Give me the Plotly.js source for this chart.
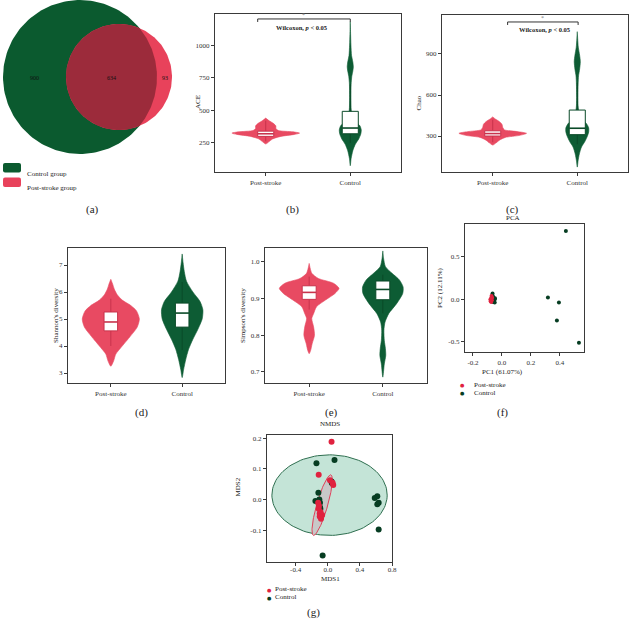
<!DOCTYPE html>
<html>
<head>
<meta charset="utf-8">
<script src="https://cdn.plot.ly/plotly-3.0.1.min.js"></script>
<style>html,body{margin:0;padding:0;background:#fff;}#chart{width:630px;height:627px;}</style>
</head>
<body>
<div id="chart"></div>
<script>
// ---------------- DATA ----------------
const groups = ['Post-stroke', 'Control'];
// Venn counts
const vennOnlyControl = 900;
const vennShared = 634;
const vennOnlyPost = 93;
const vennNames = ['Control group', 'Post-stroke group'];

// ACE violin profiles (value, half-width)
const aceGroupY_post = [242, 260, 280, 300, 315, 325, 335, 345, 360, 380, 400, 420, 440];
const aceGroupW_post = [0, 0.04, 0.08, 0.18, 0.34, 0.40, 0.32, 0.15, 0.12, 0.12, 0.09, 0.04, 0];
const aceGroupY_ctrl = [75, 130, 190, 240, 280, 320, 350, 380, 410, 450, 500, 600, 700, 760, 800, 833, 870, 920, 1000, 1080, 1179];
const aceGroupW_ctrl = [0, 0.01, 0.03, 0.06, 0.10, 0.125, 0.13, 0.115, 0.07, 0.03, 0.012, 0.008, 0.01, 0.018, 0.03, 0.036, 0.03, 0.015, 0.008, 0.004, 0];
const aceBox_post = {q1: 300, median: 320, q3: 340, lo: 262, hi: 420};
const aceBox_ctrl = {q1: 320, median: 364, q3: 492, lo: 250, hi: 700};

// Chao violin profiles
const chaoY_post = [234, 250, 270, 290, 305, 320, 332, 345, 360, 385, 405, 425, 440];
const chaoW_post = [0, 0.04, 0.08, 0.15, 0.32, 0.40, 0.30, 0.14, 0.12, 0.11, 0.08, 0.03, 0];
const chaoY_ctrl = [73, 120, 170, 220, 260, 300, 330, 360, 390, 420, 460, 520, 600, 680, 740, 790, 844, 890, 950, 1010, 1063];
const chaoW_ctrl = [0, 0.01, 0.025, 0.05, 0.09, 0.12, 0.135, 0.135, 0.11, 0.06, 0.025, 0.01, 0.008, 0.01, 0.015, 0.028, 0.036, 0.028, 0.012, 0.005, 0];
const chaoBox_post = {q1: 300, median: 318, q3: 338, lo: 255, hi: 420};
const chaoBox_ctrl = {q1: 310, median: 357, q3: 490, lo: 240, hi: 690};

// Shannon violin profiles
const shanY_post = [3.25, 3.45, 3.7, 4.0, 4.35, 4.7, 5.0, 5.3, 5.5, 5.7, 5.9, 6.1, 6.3, 6.47];
const shanW_post = [0, 0.04, 0.07, 0.16, 0.27, 0.37, 0.40, 0.36, 0.28, 0.16, 0.09, 0.05, 0.025, 0];
const shanY_ctrl = [2.83, 3.13, 3.5, 3.88, 4.25, 4.62, 5.0, 5.34, 5.65, 6.0, 6.4, 6.75, 7.1, 7.41];
const shanW_ctrl = [0, 0.02, 0.05, 0.09, 0.15, 0.22, 0.28, 0.29, 0.25, 0.15, 0.06, 0.03, 0.012, 0];
const shanBox_post = {q1: 4.56, median: 4.89, q3: 5.26, lo: 4.0, hi: 5.75};
const shanBox_ctrl = {q1: 4.70, median: 5.22, q3: 5.59, lo: 3.85, hi: 6.37};

// Simpson violin profiles
const simpY_post = [0.75, 0.759, 0.777, 0.80, 0.823, 0.846, 0.859, 0.878, 0.896, 0.914, 0.928, 0.942, 0.955, 0.969, 0.996];
const simpW_post = [0, 0.02, 0.04, 0.072, 0.06, 0.035, 0.06, 0.10, 0.22, 0.35, 0.405, 0.33, 0.125, 0.036, 0];
const simpY_ctrl = [0.686, 0.722, 0.745, 0.764, 0.786, 0.814, 0.836, 0.859, 0.887, 0.914, 0.932, 0.951, 0.969, 0.987, 1.01, 1.03];
const simpW_ctrl = [0, 0.02, 0.04, 0.035, 0.02, 0.015, 0.03, 0.08, 0.19, 0.27, 0.275, 0.225, 0.126, 0.036, 0.01, 0];
const simpBox_post = {q1: 0.898, median: 0.917, q3: 0.935, lo: 0.87, hi: 0.96};
const simpBox_ctrl = {q1: 0.897, median: 0.925, q3: 0.948, lo: 0.86, hi: 0.965};

// PCA points
const pcaCtrlX = [-0.065, -0.066, -0.06, -0.055, -0.05, -0.06, -0.055, -0.06, -0.05, -0.066, -0.07, -0.048, 0.317, 0.393, 0.379, 0.531, 0.441];
const pcaCtrlY = [0.07, 0.05, 0.03, 0.01, 0.0, -0.01, -0.02, -0.03, -0.035, -0.02, 0.02, 0.015, 0.024, -0.035, -0.247, -0.51, 0.806];
const pcaPostX = [-0.08, -0.078, -0.075, -0.072, -0.07, -0.068, -0.074];
const pcaPostY = [0.0, -0.02, 0.01, 0.04, -0.01, 0.02, -0.03];

// NMDS points
const nmdsPostX = [0.047, -0.113, 0.027, 0.068, 0.06, -0.10, -0.084, -0.113, -0.07, -0.12, -0.09, -0.10, -0.11];
const nmdsPostY = [0.188, 0.081, 0.063, 0.047, 0.055, -0.045, -0.062, -0.03, -0.05, -0.01, -0.04, -0.055, -0.02];
const nmdsCtrlX = [-0.141, 0.084, 0.047, 0.05, -0.117, -0.154, -0.105, -0.097, -0.097, -0.092, -0.11, 0.585, 0.617, 0.634, 0.617, 0.634, -0.064];
const nmdsCtrlY = [0.118, 0.129, 0.059, 0.054, 0.022, -0.005, 0.0, -0.01, -0.025, -0.03, -0.015, 0.005, 0.011, -0.01, -0.015, -0.097, -0.182];
// confidence ellipses: [cx, cy, ax, ay, bx, by] (center, major half-vector, minor half-vector)
const ellCtrl = [0.022, 0.0145, 0.718, 0, 0, 0.131];
const ellPost = [-0.07, -0.018, 0.1085, 0.0985, 0.065, -0.0049];

// ---------------- STYLE ----------------
const FONT = 'Liberation Serif, Times New Roman, serif';
const RED = '#e84a62', GREEN = '#0d5c34';
const RED_D = '#c8334c', GREEN_D = '#0a4a28';
const PT_RED = '#e0223f', PT_GREEN = '#063d22';
const W = 630, H = 627;
const P = (x, y) => ({x: x / W, y: 1 - y / H});

const traces = [];
// ---------------- VENN ----------------
const k = 77 / Math.sqrt(vennOnlyControl + vennShared);
const Rg = k * Math.sqrt(vennOnlyControl + vennShared);
const Rr = k * Math.sqrt(vennShared + vennOnlyPost);
function lensArea(d, R, r) {
  if (d >= R + r) return 0;
  if (d <= Math.abs(R - r)) return Math.PI * Math.min(R, r) ** 2;
  const a1 = r * r * Math.acos((d * d + r * r - R * R) / (2 * d * r));
  const a2 = R * R * Math.acos((d * d + R * R - r * r) / (2 * d * R));
  const a3 = 0.5 * Math.sqrt((-d + r + R) * (d + r - R) * (d - r + R) * (d + r + R));
  return a1 + a2 - a3;
}
const target = Math.PI * k * k * vennShared;
let lo = Math.abs(Rg - Rr) + 1e-6, hi = Rg + Rr;
for (let i = 0; i < 60; i++) { const m = (lo + hi) / 2; if (lensArea(m, Rg, Rr) > target) lo = m; else hi = m; }
const dist = (lo + hi) / 2;
const gx = 80, cy = 77, rx = gx + dist;
function circ(cx, cy0, R, t0, t1, n) { const xs = [], ys = []; for (let i = 0; i <= n; i++) { const t = t0 + (t1 - t0) * i / n; xs.push(cx + R * Math.cos(t)); ys.push(cy0 + R * Math.sin(t)); } return [xs, ys]; }
const [cgx, cgy] = circ(gx, cy, Rg, 0, 2 * Math.PI, 180);
const [crx, cry] = circ(rx, cy, Rr, 0, 2 * Math.PI, 180);
const aa = (dist * dist + Rg * Rg - Rr * Rr) / (2 * dist);
const hh = Math.sqrt(Rg * Rg - aa * aa);
const thg = Math.atan2(hh, aa), thr = Math.atan2(hh, dist - aa);
const [l1x, l1y] = circ(gx, cy, Rg, -thg, thg, 80);
const [l2x, l2y] = circ(rx, cy, Rr, Math.PI - thr, Math.PI + thr, 80);
traces.push({type: 'scatter', mode: 'lines', x: cgx, y: cgy, fill: 'toself', fillcolor: '#0b5a2f', line: {width: 0, color: '#0b5a2f'}, xaxis: 'x', yaxis: 'y', hoverinfo: 'skip', name: vennNames[0]});
traces.push({type: 'scatter', mode: 'lines', x: crx, y: cry, fill: 'toself', fillcolor: '#e8425b', line: {width: 0, color: '#e8425b'}, xaxis: 'x', yaxis: 'y', hoverinfo: 'skip', name: vennNames[1]});
traces.push({type: 'scatter', mode: 'lines', x: l1x.concat(l2x), y: l1y.concat(l2y), fill: 'toself', fillcolor: '#9c2b3b', line: {width: 0, color: '#9c2b3b'}, xaxis: 'x', yaxis: 'y', hoverinfo: 'skip'});

// ---------------- VIOLINS ----------------
function violin(pos, vy, vw, color, xa, ya) {
  const xs = [], ys = [];
  for (let i = 0; i < vy.length; i++) { xs.push(pos - vw[i]); ys.push(vy[i]); }
  for (let i = vy.length - 1; i >= 0; i--) { xs.push(pos + vw[i]); ys.push(vy[i]); }
  return {type: 'scatter', mode: 'lines', x: xs, y: ys, fill: 'toself', fillcolor: color, line: {color: color, width: 0.6, shape: 'spline', smoothing: 0.7}, xaxis: xa, yaxis: ya, hoverinfo: 'skip'};
}
// box drawn with scatter so that it sits above the violin fill
const BOXW = 0.095;
function boxTraces(pos, b, color, xa, ya) {
  const common = {type: 'scatter', mode: 'lines', xaxis: xa, yaxis: ya, hoverinfo: 'skip'};
  return [
    Object.assign({}, common, {x: [pos, pos, null, pos, pos], y: [b.lo, b.q1, null, b.q3, b.hi], line: {color: color, width: 1}}),
    Object.assign({}, common, {x: [pos - BOXW, pos + BOXW, pos + BOXW, pos - BOXW, pos - BOXW], y: [b.q1, b.q1, b.q3, b.q3, b.q1], fill: 'toself', fillcolor: '#ffffff', line: {color: color, width: 1}}),
    Object.assign({}, common, {x: [pos - BOXW, pos + BOXW], y: [b.median, b.median], line: {color: color, width: 1.6}})
  ];
}
const vsets = [
  ['x2', 'y2', aceGroupY_post, aceGroupW_post, aceGroupY_ctrl, aceGroupW_ctrl, aceBox_post, aceBox_ctrl],
  ['x3', 'y3', chaoY_post, chaoW_post, chaoY_ctrl, chaoW_ctrl, chaoBox_post, chaoBox_ctrl],
  ['x4', 'y4', shanY_post, shanW_post, shanY_ctrl, shanW_ctrl, shanBox_post, shanBox_ctrl],
  ['x5', 'y5', simpY_post, simpW_post, simpY_ctrl, simpW_ctrl, simpBox_post, simpBox_ctrl]
];
vsets.forEach(s => {
  traces.push(violin(0, s[2], s[3], RED, s[0], s[1]));
  traces.push(violin(1, s[4], s[5], GREEN, s[0], s[1]));
  boxTraces(0, s[6], RED_D, s[0], s[1]).forEach(t => traces.push(t));
  boxTraces(1, s[7], GREEN_D, s[0], s[1]).forEach(t => traces.push(t));
});

// ---------------- PCA ----------------
traces.push({type: 'scatter', mode: 'markers', x: pcaCtrlX, y: pcaCtrlY, marker: {color: PT_GREEN, size: 4}, xaxis: 'x6', yaxis: 'y6', name: groups[1], hoverinfo: 'skip'});
traces.push({type: 'scatter', mode: 'markers', x: pcaPostX, y: pcaPostY, marker: {color: PT_RED, size: 4}, xaxis: 'x6', yaxis: 'y6', name: groups[0], hoverinfo: 'skip'});

// ---------------- NMDS ----------------
function ellipse(e) {
  const xs = [], ys = [];
  for (let i = 0; i <= 120; i++) { const t = 2 * Math.PI * i / 120; xs.push(e[0] + Math.cos(t) * e[2] + Math.sin(t) * e[4]); ys.push(e[1] + Math.cos(t) * e[3] + Math.sin(t) * e[5]); }
  return [xs, ys];
}
const [ecx, ecy] = ellipse(ellCtrl);
const [epx, epy] = ellipse(ellPost);
traces.push({type: 'scatter', mode: 'lines', x: ecx, y: ecy, fill: 'toself', fillcolor: '#c4e4d7', line: {color: '#2f6f50', width: 1}, xaxis: 'x7', yaxis: 'y7', hoverinfo: 'skip'});
traces.push({type: 'scatter', mode: 'lines', x: epx, y: epy, fill: 'toself', fillcolor: '#c8c8c8', line: {color: '#e0405a', width: 1}, xaxis: 'x7', yaxis: 'y7', hoverinfo: 'skip'});
traces.push({type: 'scatter', mode: 'markers', x: nmdsCtrlX, y: nmdsCtrlY, marker: {color: PT_GREEN, size: 6}, xaxis: 'x7', yaxis: 'y7', name: groups[1], hoverinfo: 'skip'});
traces.push({type: 'scatter', mode: 'markers', x: nmdsPostX, y: nmdsPostY, marker: {color: PT_RED, size: 6}, xaxis: 'x7', yaxis: 'y7', name: groups[0], hoverinfo: 'skip'});

// ---------------- AXES ----------------
function ax(x0, x1, range, tickvals, ticktext, anchor, horiz) {
  const dom = horiz ? [x0 / W, x1 / W] : [1 - x1 / H, 1 - x0 / H];
  return {domain: dom, range: range, tickmode: 'array', tickvals: tickvals, ticktext: ticktext, anchor: anchor,
    showline: true, mirror: true, linecolor: '#3a3a3a', linewidth: 1.2, ticks: 'outside', ticklen: 3, tickcolor: '#3a3a3a', tickwidth: 1,
    showgrid: false, zeroline: false, tickfont: {family: FONT, size: 7, color: '#333'}, fixedrange: true};
}
const catR = [-0.6, 1.6];
const xg = ax(267, 392, [-0.757, 0.8], [-0.4, 0, 0.4, 0.8], ['-0.4', '0.0', '0.4', '0.8'], 'y7', true);
xg.ticklabelstandoff = -3;
const layout = {
  width: W, height: H, margin: {l: 0, r: 0, t: 0, b: 0}, paper_bgcolor: '#fff', plot_bgcolor: 'rgba(0,0,0,0)', showlegend: false,
  font: {family: FONT, color: '#222'},
  xaxis: {domain: [0, 200 / W], range: [0, 200], visible: false, fixedrange: true, anchor: 'y'},
  yaxis: {domain: [1 - 170 / H, 1], range: [170, 0], visible: false, fixedrange: true, anchor: 'x'},
  xaxis2: ax(215, 401, catR, [0, 1], groups, 'y2', true),
  yaxis2: ax(14, 172, [27, 1238], [250, 500, 750, 1000], ['250', '500', '750', '1000'], 'x2', false),
  xaxis3: ax(442, 628, catR, [0, 1], groups, 'y3', true),
  yaxis3: ax(15, 172, [37, 1185], [300, 600, 900], ['300', '600', '900'], 'x3', false),
  xaxis4: ax(68, 225, catR, [0, 1], groups, 'y4', true),
  yaxis4: ax(248, 383, [2.63, 7.63], [3, 4, 5, 6, 7], ['3', '4', '5', '6', '7'], 'x4', false),
  xaxis5: ax(265, 427, catR, [0, 1], groups, 'y5', true),
  yaxis5: ax(248, 383, [0.67, 1.038], [0.7, 0.8, 0.9, 1.0], ['0.7', '0.8', '0.9', '1.0'], 'x5', false),
  xaxis6: ax(465, 584, [-0.255, 0.566], [-0.2, 0, 0.2, 0.4], ['-0.2', '0.0', '0.2', '0.4'], 'y6', true),
  yaxis6: ax(224, 352, [-0.618, 0.888], [-0.5, 0, 0.5], ['-0.5', '0.0', '0.5'], 'x6', false),
  xaxis7: xg,
  yaxis7: ax(435, 562, [-0.203, 0.21], [-0.1, 0, 0.1, 0.2], ['-0.1', '0.0', '0.1', '0.2'], 'x7', false),
  shapes: [], annotations: []
};

// significance brackets
function bracket(xa, ya, x0, x1, yTop, yEnd, starY, txtX, txtY) {
  layout.shapes.push({type: 'path', xref: xa, yref: ya, path: `M${x0},${yEnd} L${x0},${yTop} L${x1},${yTop} L${x1},${yEnd}`, line: {color: '#333', width: 1}});
  layout.annotations.push({xref: xa, yref: ya, x: (x0 + x1) / 2, y: starY, text: '*', showarrow: false, font: {family: FONT, size: 6, color: '#777'}});
  layout.annotations.push({xref: xa, yref: ya, x: txtX, y: txtY, text: '<b>Wilcoxon, <i>p</i> &lt; 0.05</b>', showarrow: false, font: {family: FONT, size: 6.5, color: '#222'}});
}
bracket('x2', 'y2', -0.095, 1, 1200, 1177, 1228, 0.43, 1131);
bracket('x3', 'y3', 0.176, 1.01, 1134, 1112, 1160, 0.62, 1076);

// Venn labels (placed at region midpoints)
const vennLabel = (x, t) => layout.annotations.push({xref: 'x', yref: 'y', x: x, y: cy + 1, text: t, showarrow: false, font: {family: FONT, size: 6, color: '#111'}});
vennLabel(((gx - Rg) + (rx - Rr)) / 2, String(vennOnlyControl));
vennLabel(((rx - Rr) + (gx + Rg)) / 2, String(vennShared));
vennLabel(((gx + Rg) + (rx + Rr)) / 2, String(vennOnlyPost));

// Venn legend swatches
function rrect(x0, y0, x1, y1, r, color) {
  const a = P(x0, y0), b = P(x1, y1), rx_ = r / W, ry_ = r / H;
  const path = `M${a.x + rx_},${a.y} L${b.x - rx_},${a.y} Q${b.x},${a.y} ${b.x},${a.y - ry_} L${b.x},${b.y + ry_} Q${b.x},${b.y} ${b.x - rx_},${b.y} L${a.x + rx_},${b.y} Q${a.x},${b.y} ${a.x},${b.y + ry_} L${a.x},${a.y - ry_} Q${a.x},${a.y} ${a.x + rx_},${a.y} Z`;
  layout.shapes.push({type: 'path', xref: 'paper', yref: 'paper', path: path, fillcolor: color, line: {width: 0}});
}
rrect(3, 163, 21, 172.5, 2, '#0b5a2f');
rrect(3, 177.5, 21, 187, 2, '#e8425b');

function txt(x, y, t, size, opts) {
  const p = P(x, y);
  layout.annotations.push(Object.assign({xref: 'paper', yref: 'paper', x: p.x, y: p.y, text: t, showarrow: false, font: {family: FONT, size: size, color: '#222'}}, opts || {}));
}
txt(25, 167.5, vennNames[0], 7, {xanchor: 'left'});
txt(25, 182, vennNames[1], 7, {xanchor: 'left'});

// panel letters
txt(84, 201, '(a)', 11);
txt(292, 201, '(b)', 11);
txt(521, 201, '(c)', 11);
txt(133, 412, '(d)', 11);
txt(331, 412, '(e)', 11);
txt(510, 412, '(f)', 11);
txt(313, 621, '(g)', 11);

// axis titles
txt(192, 93, 'ACE', 7, {textangle: -90});
txt(418, 94, 'Chao', 7, {textangle: -90});
txt(50, 316, "Shannon's diversity", 7, {textangle: -90});
txt(243, 316, "Simpson's diversity", 7, {textangle: -90});
txt(446, 288, 'PC2 (12.11%)', 7, {textangle: -90});
txt(237, 499, 'MDS2', 7, {textangle: -90});
txt(525, 372, 'PC1 (61.07%)', 7);
txt(330, 584.5, 'MDS1', 7);
txt(522, 218, 'PCA', 7);
txt(330, 430, 'NMDS', 7);

// point legends
txt(467, 385, '●', 5, {font: {family: 'DejaVu Sans', size: 5, color: PT_RED}});
txt(467, 393, '●', 5, {font: {family: 'DejaVu Sans', size: 5, color: PT_GREEN}});
txt(472, 385, groups[0], 7, {xanchor: 'left'});
txt(472, 393, groups[1], 7, {xanchor: 'left'});
txt(269, 595, '●', 5, {font: {family: 'DejaVu Sans', size: 5, color: PT_RED}});
txt(269, 603, '●', 5, {font: {family: 'DejaVu Sans', size: 5, color: PT_GREEN}});
txt(273, 595, groups[0], 7, {xanchor: 'left'});
txt(273, 603, groups[1], 7, {xanchor: 'left'});

Plotly.newPlot('chart', traces, layout, {staticPlot: true, displayModeBar: false});
</script>
</body>
</html>
